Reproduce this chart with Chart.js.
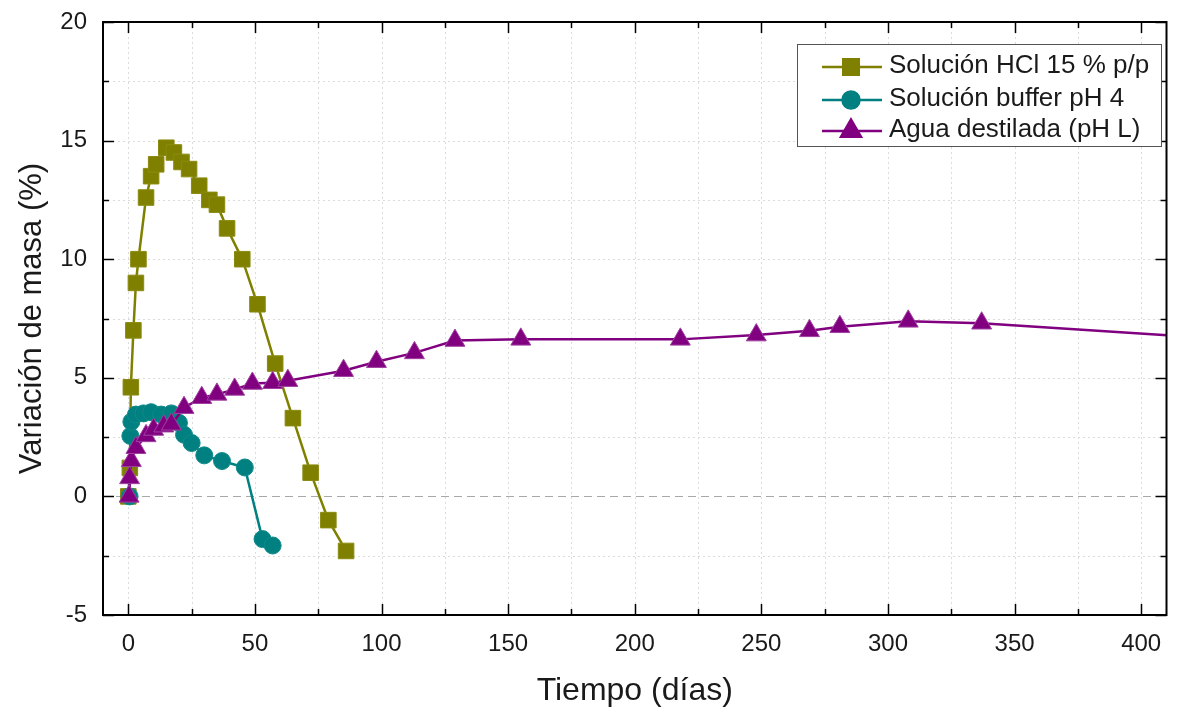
<!DOCTYPE html>
<html><head><meta charset="utf-8">
<script src="https://cdn.jsdelivr.net/npm/chart.js@4.4.0/dist/chart.umd.min.js"></script>
<style>html,body{margin:0;padding:0;background:#fff;}#wrap{width:1179px;height:707px;}</style>
</head><body><div id="wrap"><canvas id="c" width="1179" height="707"></canvas></div>
<script>
const seriesNames = ['Solución HCl 15 % p/p', 'Solución buffer pH 4', 'Agua destilada (pH L)'];
const seriesColors = ['#808000', '#008080', '#800080'];

const hclDays = [0, 0.6, 1, 2, 3, 4, 7, 9, 11, 15, 18, 21, 24, 28, 32, 35, 39, 45, 51, 58, 65, 72, 79, 86];
const hclMass = [0, 1.2, 4.6, 7.0, 9.0, 10.0, 12.6, 13.5, 14.0, 14.7, 14.5, 14.1, 13.8, 13.1, 12.5, 12.3, 11.3, 10.0, 8.1, 5.6, 3.3, 1.0, -1.0, -2.3];

const bufferDays = [0.5, 0.8, 1.2, 3, 6, 9, 13, 17, 20, 22, 25, 30, 37, 46, 53, 57];
const bufferMass = [0, 2.55, 3.15, 3.45, 3.5, 3.55, 3.45, 3.5, 3.1, 2.6, 2.25, 1.73, 1.49, 1.22, -1.8, -2.07];

const aguaDays = [0.3, 0.5, 1.2, 3, 7, 10, 14, 17, 22, 29, 35, 42, 49, 57, 63, 85, 98, 113, 129, 155, 218, 248, 269, 281, 308, 337, 430];
const aguaMass = [0, 0.78, 1.5, 2.05, 2.55, 2.82, 2.96, 3.04, 3.74, 4.16, 4.3, 4.51, 4.76, 4.79, 4.88, 5.3, 5.68, 6.05, 6.57, 6.62, 6.62, 6.8, 6.98, 7.15, 7.38, 7.3, 6.66];

const xTickLabels = [0, 50, 100, 150, 200, 250, 300, 350, 400];
const yTickLabels = [-5, 0, 5, 10, 15, 20];

const FONT = '"Liberation Sans", Arial, sans-serif';

function pts(xs, ys) { return xs.map((x, i) => ({x: x, y: ys[i]})); }

const gridPlugin = {
  id: 'gridPlugin',
  beforeDatasetsDraw(chart) {
    const ctx = chart.ctx, a = chart.chartArea;
    const xs = chart.scales.x, ys = chart.scales.y;
    ctx.save();
    ctx.lineWidth = 1;
    ctx.strokeStyle = '#dcdcdc';
    ctx.setLineDash([2, 3]);
    for (let v = 0; v <= 400; v += 25) {
      const px = Math.round(xs.getPixelForValue(v)) + 0.5;
      ctx.beginPath(); ctx.moveTo(px, a.top); ctx.lineTo(px, a.bottom); ctx.stroke();
    }
    for (let v = -2.5; v < 20; v += 2.5) {
      if (v === 0) continue;
      const py = Math.round(ys.getPixelForValue(v)) + 0.5;
      ctx.beginPath(); ctx.moveTo(a.left, py); ctx.lineTo(a.right, py); ctx.stroke();
    }
    ctx.strokeStyle = '#a8a8a8';
    ctx.setLineDash([8, 5]);
    const pz = Math.round(ys.getPixelForValue(0)) + 0.5;
    ctx.beginPath(); ctx.moveTo(a.left, pz); ctx.lineTo(a.right, pz); ctx.stroke();
    ctx.restore();
  },
  afterDraw(chart) {
    const ctx = chart.ctx, a = chart.chartArea;
    const xs = chart.scales.x, ys = chart.scales.y;
    ctx.save();
    ctx.setLineDash([]);
    ctx.strokeStyle = '#000';
    ctx.lineWidth = 1.5;
    for (let v = 0; v <= 400; v += 25) {
      const px = Math.round(xs.getPixelForValue(v)) + 0.5;
      const len = (v % 50 === 0) ? 11 : 6;
      ctx.beginPath(); ctx.moveTo(px, a.bottom); ctx.lineTo(px, a.bottom - len); ctx.stroke();
      ctx.beginPath(); ctx.moveTo(px, a.top); ctx.lineTo(px, a.top + len); ctx.stroke();
    }
    for (let v = -5; v <= 20; v += 2.5) {
      const py = Math.round(ys.getPixelForValue(v)) + 0.5;
      const len = (v % 5 === 0) ? 11 : 6;
      ctx.beginPath(); ctx.moveTo(a.left, py); ctx.lineTo(a.left + len, py); ctx.stroke();
      ctx.beginPath(); ctx.moveTo(a.right, py); ctx.lineTo(a.right - len, py); ctx.stroke();
    }
    ctx.lineWidth = 2;
    ctx.strokeRect(a.left, a.top, a.right - a.left, a.bottom - a.top);

    // legend
    const lx = 797, ly = 44, lw = 364, lh = 102;
    ctx.fillStyle = '#fff';
    ctx.fillRect(lx, ly, lw, lh);
    ctx.lineWidth = 1;
    ctx.strokeStyle = '#555';
    ctx.strokeRect(lx + 0.5, ly + 0.5, lw, lh);
    const rows = [67, 100, 131];
    const styles = ['rect', 'circle', 'triangle'];
    const radii = [11, 8.5, 11.5];
    ctx.font = '26px ' + FONT;
    ctx.textBaseline = 'middle';
    ctx.textAlign = 'left';
    for (let i = 0; i < 3; i++) {
      const y = rows[i];
      ctx.strokeStyle = seriesColors[i];
      ctx.lineWidth = 2.5;
      ctx.beginPath(); ctx.moveTo(822, y); ctx.lineTo(882, y); ctx.stroke();
      ctx.fillStyle = seriesColors[i];
      Chart.helpers.drawPoint(ctx, {pointStyle: styles[i], radius: radii[i], rotation: 0, borderWidth: 1}, 851, y);
      ctx.fill();
      ctx.fillStyle = '#1a1a1a';
      ctx.fillText(seriesNames[i], 889, y - 1);
    }
    ctx.restore();
  }
};

new Chart(document.getElementById('c'), {
  type: 'scatter',
  data: {
    datasets: [
      {label: seriesNames[0], data: pts(hclDays, hclMass), showLine: true, borderColor: seriesColors[0], backgroundColor: seriesColors[0],
       borderWidth: 2.5, pointStyle: 'rect', pointRadius: 11, pointBorderWidth: 1, pointBorderColor: '#8a8a10', order: 2},
      {label: seriesNames[1], data: pts(bufferDays, bufferMass), showLine: true, borderColor: seriesColors[1], backgroundColor: seriesColors[1],
       borderWidth: 2.5, pointStyle: 'circle', pointRadius: 8.5, pointBorderWidth: 1, pointBorderColor: '#108a8a', order: 1},
      {label: seriesNames[2], data: pts(aguaDays, aguaMass), showLine: true, borderColor: seriesColors[2], backgroundColor: seriesColors[2],
       borderWidth: 2.5, pointStyle: 'triangle', pointRadius: 11.5, pointBorderWidth: 1, pointBorderColor: '#a040a0', order: 0}
    ]
  },
  options: {
    responsive: false,
    animation: false,
    devicePixelRatio: 1,
    layout: {padding: {top: 22, right: 2, left: 0, bottom: 0}},
    plugins: {legend: {display: false}, tooltip: {enabled: false}},
    scales: {
      x: {
        type: 'linear', min: -10, max: 410,
        afterFit(s) { s.height = 92; s.paddingLeft = 0; s.paddingRight = 0; },
        grid: {display: false, drawTicks: false},
        border: {display: false},
        ticks: {
          stepSize: 25, includeBounds: false, autoSkip: false, maxRotation: 0, padding: 15,
          color: '#1a1a1a', font: {family: FONT, size: 24},
          callback: v => xTickLabels.includes(v) ? String(v) : ''
        },
        title: {display: true, text: 'Tiempo (días)', color: '#1a1a1a', font: {family: FONT, size: 32}, padding: {top: 0, bottom: -3}}
      },
      y: {
        type: 'linear', min: -5, max: 20,
        afterFit(s) { s.width = 103; s.paddingTop = 0; s.paddingBottom = 0; },
        grid: {display: false, drawTicks: false},
        border: {display: false},
        ticks: {
          stepSize: 2.5, includeBounds: false, autoSkip: false, padding: 16,
          color: '#1a1a1a', font: {family: FONT, size: 24},
          callback: v => yTickLabels.includes(v) ? String(v) : ''
        },
        title: {display: true, text: 'Variación de masa (%)', color: '#1a1a1a', font: {family: FONT, size: 31}, padding: {top: 14, bottom: 0}}
      }
    }
  },
  plugins: [gridPlugin]
});
</script>
</body></html>
